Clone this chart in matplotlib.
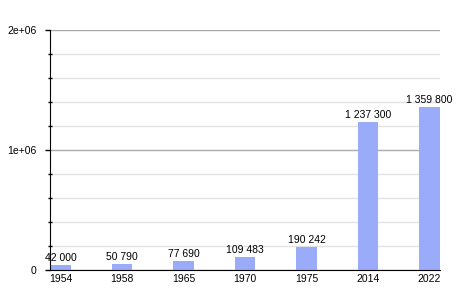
import numpy as np
import matplotlib.pyplot as plt
from matplotlib.ticker import MultipleLocator

years = ['1954', '1958', '1965', '1970', '1975', '2014', '2022']
population = [42000, 50790, 77690, 109483, 190242, 1237300, 1359800]
value_labels = ['42 000', '50 790', '77 690', '109 483', '190 242', '1 237 300', '1 359 800']

plt.rcParams['font.family'] = ['Liberation Sans', 'DejaVu Sans']

fig = plt.figure(figsize=(4.7, 3), dpi=100)
ax = fig.add_axes([50 / 470, 30 / 300, 390 / 470, 240 / 300])

x = np.arange(len(years))
ax.bar(x, population, width=0.34, color='#9aabfa', zorder=3)

# labels on top of each bar
for xi, val, lab in zip(x, population, value_labels):
    ax.text(xi, val + 33000, lab, ha='center', va='baseline', fontsize=7.5, zorder=4)

ax.set_xlim(-0.17, len(years) - 1 + 0.17)
ax.set_ylim(0, 2e6)
ax.set_xticks(x)
ax.set_xticklabels(years, fontsize=7.5)
ax.set_yticks([0, 1e6, 2e6])
ax.set_yticklabels(['0', '1e+06', '2e+06'], fontsize=7.5)
ax.yaxis.set_minor_locator(MultipleLocator(2e5))

ax.tick_params(axis='x', length=0, pad=3)
ax.tick_params(axis='y', which='major', length=3.6, width=1, pad=6)
ax.tick_params(axis='y', which='minor', length=2.5, width=1, direction='inout')

ax.grid(axis='y', which='major', color='#aaaaaa', linewidth=1, zorder=0)
ax.grid(axis='y', which='minor', color='#e2e2e2', linewidth=1, zorder=0)

for side in ['top', 'right']:
    ax.spines[side].set_visible(False)
for side in ['left', 'bottom']:
    ax.spines[side].set_color('black')
    ax.spines[side].set_zorder(5)

fig.savefig('out.png', dpi=100)
